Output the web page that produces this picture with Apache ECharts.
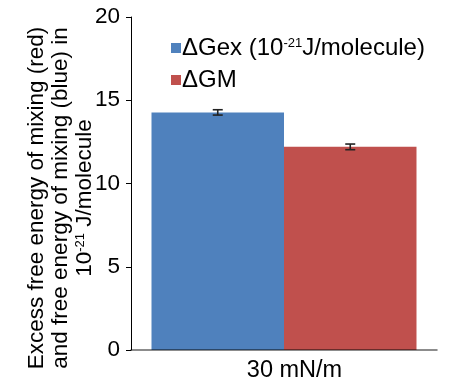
<!DOCTYPE html>
<html><head><meta charset="utf-8">
<script src="https://cdn.jsdelivr.net/npm/echarts@6/dist/echarts.min.js"></script>
<style>html,body{margin:0;padding:0;background:#fff}#c{width:450px;height:387px}</style>
</head><body><div id="c"></div>
<script>
const categories = ['30 mN/m'];
const seriesNames = ['ΔGex', 'ΔGM'];
const gexValues = [14.27];
const gmValues = [12.2];
const gexErrors = [0.16];
const gmErrors = [0.17];
const yTicks = [0, 5, 10, 15, 20];

const FONT = 'Liberation Sans, Arial, sans-serif';
const chart = echarts.init(document.getElementById('c'));
const barCatGap = 0.134;

function errorItem(params, api) {
  const ci = api.value(0);
  const v = api.value(1);
  const e = api.value(2);
  const which = api.value(3);
  const band = api.size([1, 0])[0];
  const bw = band * (1 - barCatGap) / 2;
  const c = api.coord([ci, 0])[0] + (which === 0 ? -bw / 2 : bw / 2);
  const top = api.coord([ci, v + e])[1];
  const bot = api.coord([ci, v - e])[1];
  const cap = 5;
  const st = { stroke: '#222', lineWidth: 1.6 };
  return { type: 'group', children: [
    { type: 'line', shape: { x1: c, y1: top, x2: c, y2: bot }, style: st },
    { type: 'line', shape: { x1: c - cap, y1: top, x2: c + cap, y2: top }, style: st },
    { type: 'line', shape: { x1: c - cap, y1: bot, x2: c + cap, y2: bot }, style: st }
  ]};
}

const errData = [];
categories.forEach((c, i) => {
  errData.push([i, gexValues[i], gexErrors[i], 0]);
  errData.push([i, gmValues[i], gmErrors[i], 1]);
});

chart.setOption({
  animation: false,
  backgroundColor: '#fff',
  textStyle: { fontFamily: FONT },
  grid: { left: 131, right: 13, top: 17, bottom: 37, outerBoundsMode: 'none', containLabel: false },
  legend: {
    orient: 'vertical', left: 166, top: 31, itemGap: 8,
    icon: 'rect', itemWidth: 10, itemHeight: 10,
    data: seriesNames,
    textStyle: { fontFamily: FONT, fontSize: 24, color: '#000', padding: [0,0,0,-4],
      rich: { n: { fontSize: 24, fontFamily: FONT, color: '#000' },
              s: { fontSize: 13, fontFamily: FONT, color: '#000', padding: [0,0,10,0] } } },
    formatter: function (name) {
      if (name === 'ΔGex') return '{n|ΔGex (10}{s|-21}{n|J/molecule)}';
      return '{n|' + name + '}';
    }
  },
  xAxis: {
    type: 'category', data: categories,
    axisLine: { lineStyle: { color: 'rgba(0,0,0,0.6)', width: 1.5 } },
    axisTick: { show: false },
    axisLabel: { fontSize: 23.5, color: '#000', fontFamily: FONT, margin: 9, padding: [0,0,0,21] },
    z: 10
  },
  yAxis: {
    type: 'value', min: 0, max: 20, interval: 5,
    axisLine: { show: true, lineStyle: { color: '#000', width: 1 } },
    axisTick: { show: true, length: 5, lineStyle: { color: '#000' } },
    splitLine: { show: false },
    axisLabel: { fontSize: 22.5, color: '#000', fontFamily: FONT, margin: 11 }
  },
  graphic: [{
    type: 'text', x: 61, y: 198, rotation: Math.PI / 2,
    style: {
      text: '{a|Excess free energy of mixing (red)}\n{a|and free energy of mixing (blue) in}\n{a|10}{s|-21}{a| J/molecule}',
      align: 'center', verticalAlign: 'middle',
      rich: { a: { fontSize: 22.5, fontFamily: FONT, fill: '#000', lineHeight: 24, align: 'center' },
              s: { fontSize: 13, fontFamily: FONT, fill: '#000', padding: [0,0,9,0] } }
    }
  }],
  series: [
    { name: seriesNames[0], type: 'bar', data: gexValues, barGap: '0%', barCategoryGap: (barCatGap*100)+'%',
      itemStyle: { color: '#4F81BD' } },
    { name: seriesNames[1], type: 'bar', data: gmValues, barGap: '0%', barCategoryGap: (barCatGap*100)+'%',
      itemStyle: { color: '#C0504D' } },
    { type: 'custom', renderItem: errorItem, data: errData, z: 5, silent: true,
      encode: { x: 0, y: 1 } }
  ]
});
</script></body></html>
